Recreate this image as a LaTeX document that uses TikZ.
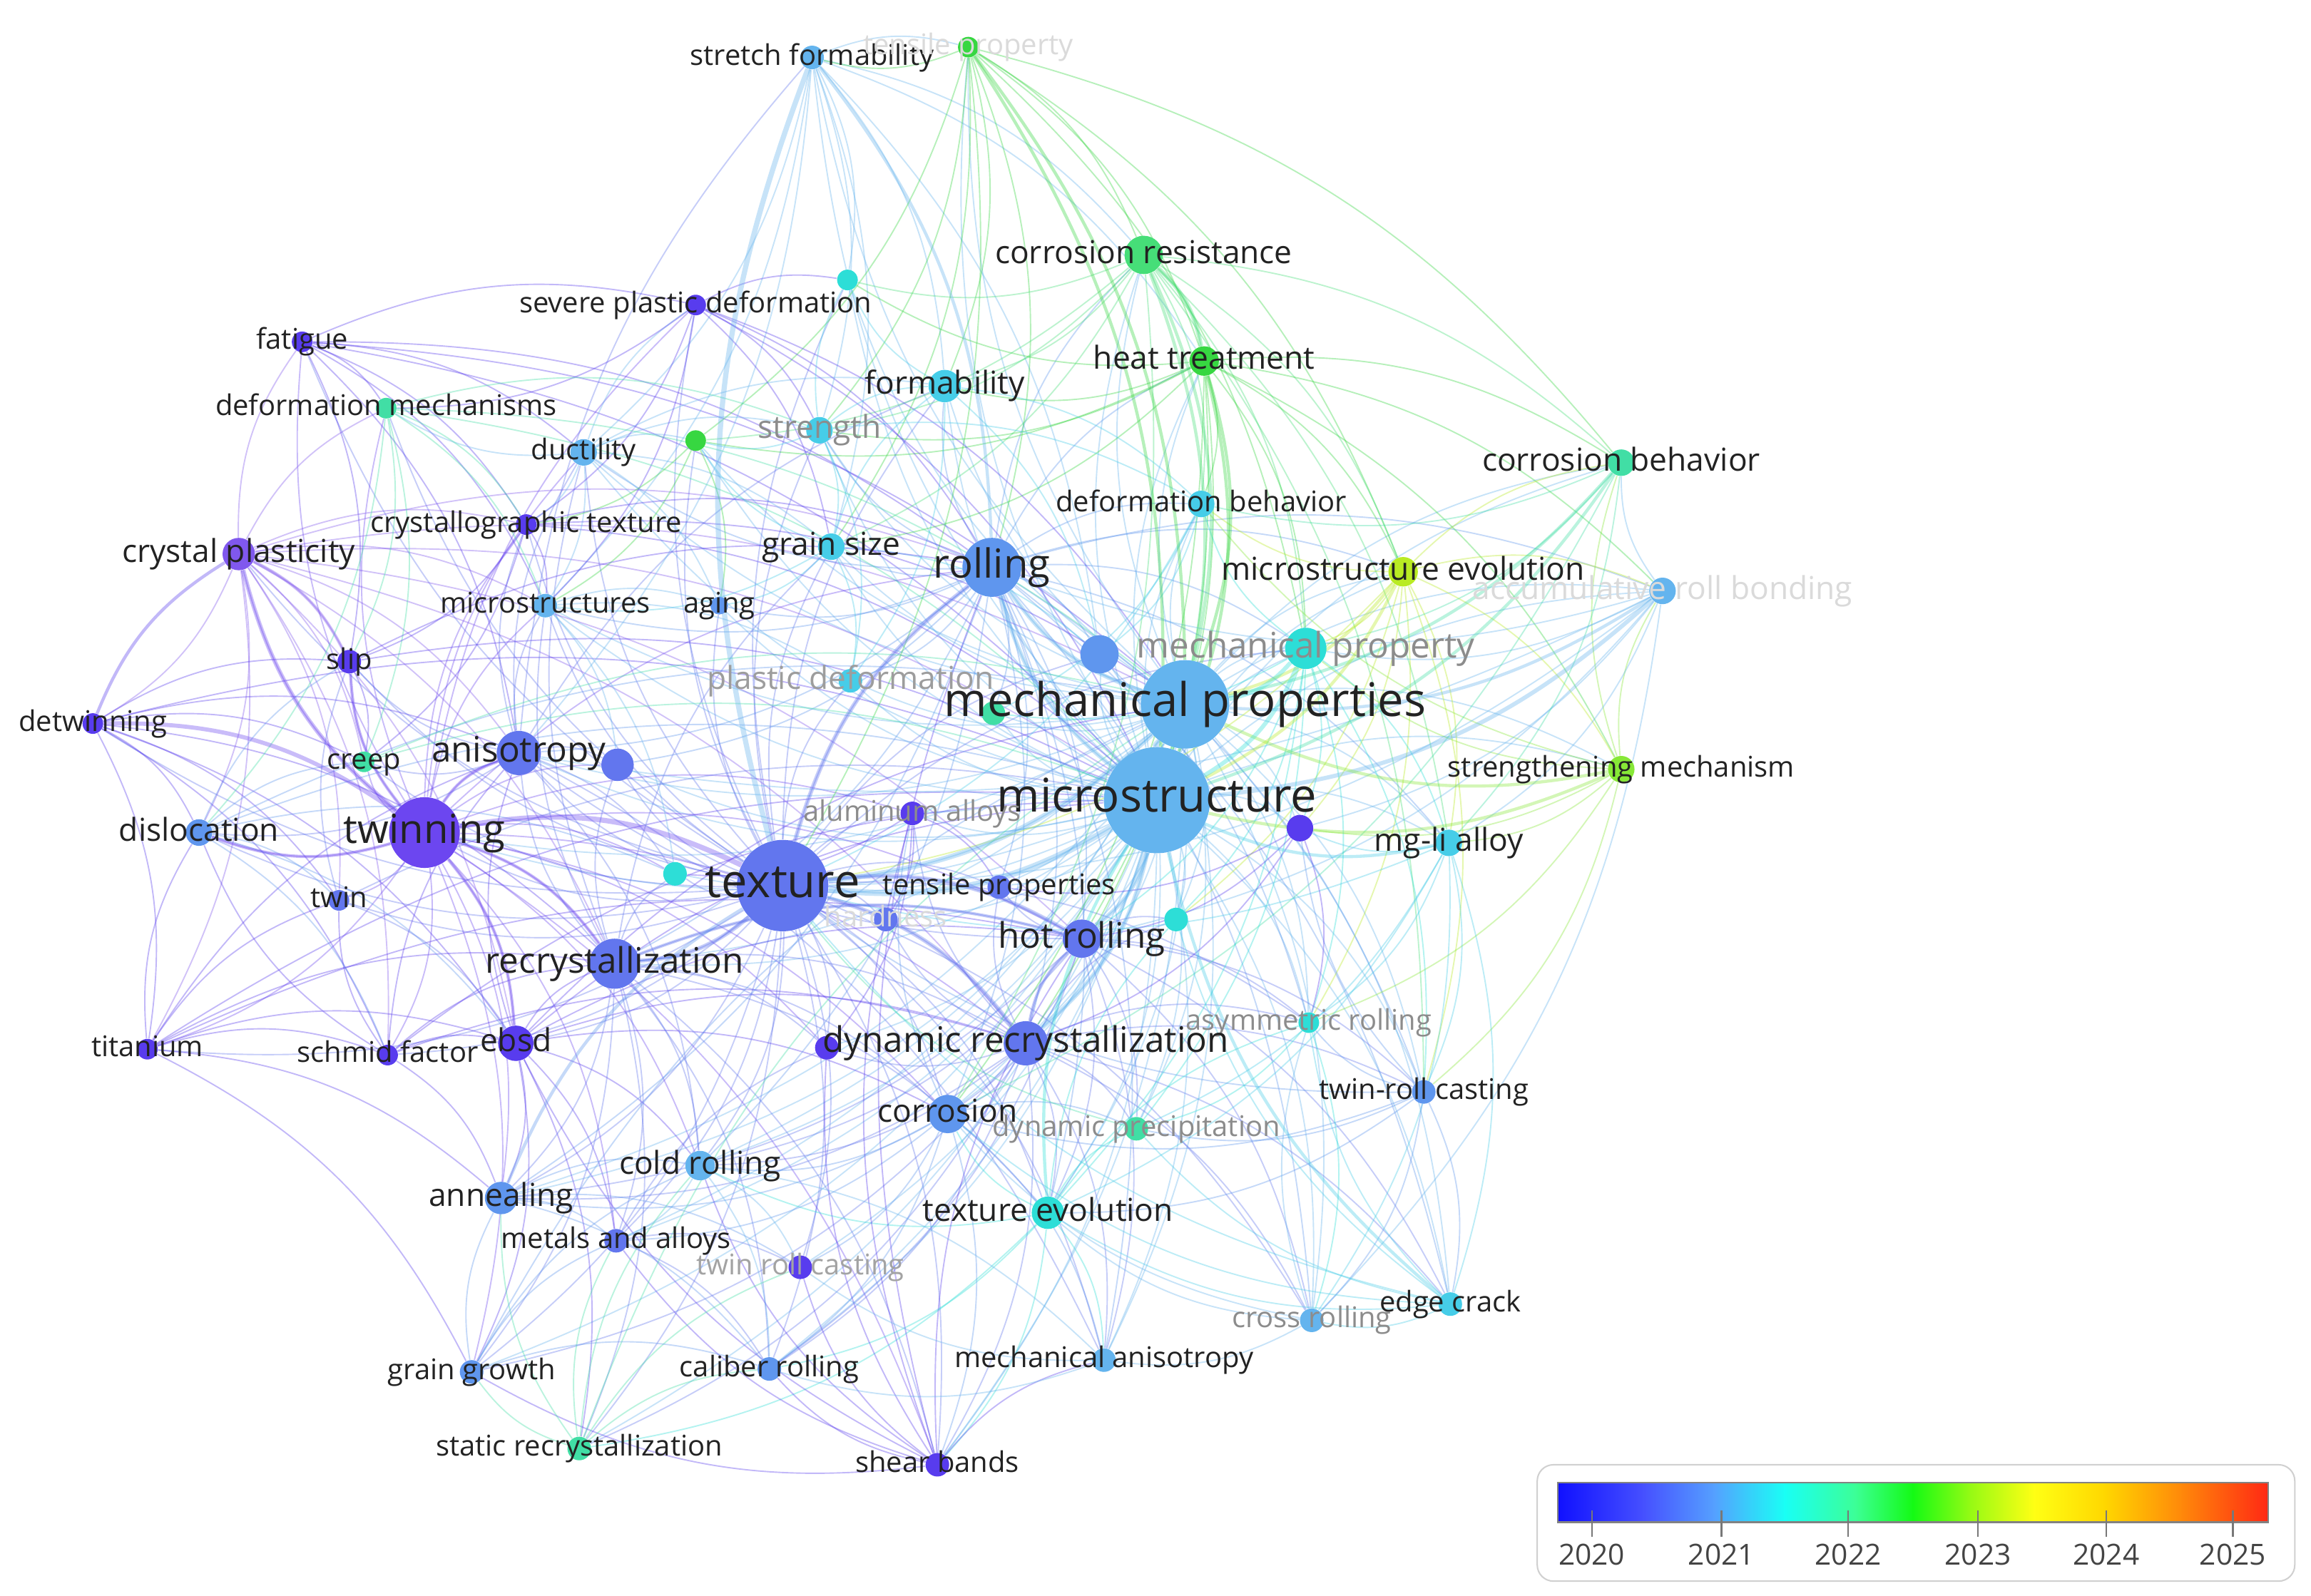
\documentclass[tikz,border=0pt]{standalone}
\usepackage{fontspec}
\setmainfont{Open Sans}
\definecolor{P0}{RGB}{88,60,238}
\definecolor{P1}{RGB}{108,70,240}
\definecolor{P2}{RGB}{128,88,238}
\definecolor{B0}{RGB}{98,118,238}
\definecolor{B1}{RGB}{95,150,238}
\definecolor{B2}{RGB}{100,180,238}
\definecolor{C0}{RGB}{70,205,232}
\definecolor{C1}{RGB}{45,222,215}
\definecolor{T0}{RGB}{65,222,165}
\definecolor{G0}{RGB}{70,222,120}
\definecolor{G1}{RGB}{55,215,65}
\definecolor{Y0}{RGB}{185,235,35}
\definecolor{YG}{RGB}{135,232,55}
\definecolor{tdark}{RGB}{34,34,34}
\definecolor{tgrey}{RGB}{140,140,140}
\definecolor{tfaint}{RGB}{218,218,218}
\definecolor{s0}{RGB}{16,16,255}
\definecolor{s1}{RGB}{70,80,255}
\definecolor{s2}{RGB}{85,160,255}
\definecolor{s3}{RGB}{25,255,245}
\definecolor{s4}{RGB}{60,255,150}
\definecolor{s5}{RGB}{20,250,20}
\definecolor{s6}{RGB}{150,250,20}
\definecolor{s7}{RGB}{255,255,20}
\definecolor{s8}{RGB}{255,215,0}
\definecolor{s9}{RGB}{255,135,10}
\definecolor{s10}{RGB}{255,40,20}
\pgfdeclarelayer{edges}
\pgfsetlayers{edges,main}
\begin{document}
\begin{tikzpicture}[x=0.025cm, y=-0.025cm,
  nd/.style 2 args={circle, inner sep=0pt, minimum size=#2*0.05cm, fill=#1, draw=none},
  lnk/.style={line width=0.65pt, draw opacity=0.36},
  lab/.style={inner sep=0pt, anchor=center, text=tdark},
  lXL/.style={lab, font=\fontsize{22.4pt}{27pt}\selectfont, text height=16.5pt, text depth=5pt},
  lL/.style={lab, font=\fontsize{19.35pt}{23pt}\selectfont, text height=14.3pt, text depth=4.25pt},
  lM/.style={lab, font=\fontsize{17pt}{20.5pt}\selectfont, text height=12.6pt, text depth=3.75pt},
  lS/.style={lab, font=\fontsize{15.25pt}{18.5pt}\selectfont, text height=11.3pt, text depth=3.35pt},
  lXS/.style={lab, font=\fontsize{13.75pt}{16.5pt}\selectfont, text height=10.2pt, text depth=3pt},
  lyear/.style={inner sep=0pt, anchor=center, text={rgb,255:red,68;green,68;blue,68}, font=\fontsize{14pt}{17pt}\selectfont}
]
\useasboundingbox (0,0) rectangle (1568,1083);
% ---------------- nodes ----------------
\node[nd={B2}{8}] (sf) at (551,39) {};
\node[nd={G1}{7}] (tp) at (657,32) {};
\node[nd={G0}{13}] (cr) at (776,173) {};
\node[nd={P0}{7}] (spd) at (472,207) {};
\node[nd={C1}{7}] (ua) at (575,190) {};
\node[nd={P0}{7}] (fa) at (205,232) {};
\node[nd={G1}{10}] (ht) at (817,245) {};
\node[nd={C0}{11}] (fo) at (641,262) {};
\node[nd={T0}{7}] (dm) at (262,277) {};
\node[nd={C0}{9}] (st) at (556,292) {};
\node[nd={B2}{9}] (du) at (396,307) {};
\node[nd={G1}{7}] (ub) at (472,299) {};
\node[nd={T0}{9}] (cb) at (1100,314) {};
\node[nd={C0}{9}] (db) at (815,342) {};
\node[nd={P0}{7}] (ct) at (357,356) {};
\node[nd={P2}{11}] (cp) at (162,376) {};
\node[nd={C0}{9}] (gs) at (564,371) {};
\node[nd={B1}{20}] (ro) at (673,385) {};
\node[nd={Y0}{10}] (me) at (952,388) {};
\node[nd={B2}{9}] (arb) at (1128,401) {};
\node[nd={B2}{8}] (ms) at (370,411) {};
\node[nd={B1}{6}] (ag) at (488,411) {};
\node[nd={P0}{8}] (sl) at (237,449) {};
\node[nd={C1}{14}] (mpy) at (886,440) {};
\node[nd={B1}{13}] (uc) at (746,444) {};
\node[nd={C0}{8}] (pd) at (577,462) {};
\node[nd={B2}{30}] (mp) at (804,478) {};
\node[nd={T0}{8}] (ud) at (674,484) {};
\node[nd={P0}{7}] (dt) at (63,491) {};
\node[nd={T0}{7}] (cre) at (247,517) {};
\node[nd={B0}{15}] (an) at (352,511) {};
\node[nd={B0}{11}] (ue) at (419,519) {};
\node[nd={B1}{9}] (di) at (135,565) {};
\node[nd={C1}{8}] (uf) at (458,593) {};
\node[nd={B0}{31}] (tx) at (531,601) {};
\node[nd={B0}{7}] (twn) at (230,611) {};
\node[nd={P1}{24}] (tw) at (288,565) {};
\node[nd={B0}{17}] (rc) at (417,654) {};
\node[nd={P0}{12}] (eb) at (350,708) {};
\node[nd={P0}{7}] (ti) at (100,712) {};
\node[nd={P0}{7}] (sc) at (263,716) {};
\node[nd={B2}{36}] (mi) at (785,543) {};
\node[nd={P0}{8}] (al) at (619,552) {};
\node[nd={P0}{9}] (ug) at (882,562) {};
\node[nd={C0}{9}] (mg) at (983,572) {};
\node[nd={YG}{9}] (sm) at (1100,522) {};
\node[nd={B0}{8}] (tpr) at (678,602) {};
\node[nd={B0}{8}] (ha) at (601,624) {};
\node[nd={B0}{13}] (hr) at (734,637) {};
\node[nd={C1}{8}] (uh) at (798,624) {};
\node[nd={C1}{7}] (asr) at (888,694) {};
\node[nd={B0}{15}] (dr) at (696,708) {};
\node[nd={P0}{8}] (ui) at (561,711) {};
\node[nd={B1}{8}] (trc) at (966,741) {};
\node[nd={B1}{13}] (co) at (643,756) {};
\node[nd={T0}{8}] (dp) at (771,766) {};
\node[nd={B2}{10}] (cor) at (475,791) {};
\node[nd={C1}{11}] (te) at (711,823) {};
\node[nd={B1}{11}] (ann) at (340,813) {};
\node[nd={B0}{8}] (ma) at (418,842) {};
\node[nd={P0}{8}] (trc2) at (543,860) {};
\node[nd={B2}{8}] (crl) at (890,896) {};
\node[nd={C0}{8}] (ec) at (984,885) {};
\node[nd={B1}{8}] (gg) at (320,931) {};
\node[nd={B1}{8}] (cal) at (522,929) {};
\node[nd={B2}{8}] (mai) at (749,923) {};
\node[nd={T0}{8}] (srx) at (393,983) {};
\node[nd={P0}{8}] (sb) at (636,994) {};
% ---------------- edges ----------------
\begin{pgfonlayer}{edges}
\fill[white] (0,0) rectangle (1568,1083);
\foreach \s/\c/\tl in {
 mi/B2/{mp,tx,ro,hr,dr,rc,an,tw,fo,st,gs,du,mpy,me,cr,ht,cb,arb,sm,mg,trc,co,te,cor,ann,asr,dp,ec,crl,mai,tpr,al,pd,db,uc,ud,ug,uh,sf,tp,ag,ms,ma,cal,gg,srx,sb,trc2,ha,ua,ub,ue,uf,ui},
 mp/B2/{tx,ro,hr,dr,rc,an,tw,fo,st,gs,du,mpy,me,cr,ht,cb,arb,sm,mg,trc,co,te,cor,ann,asr,dp,ec,crl,mai,tpr,al,pd,db,uc,sf,tp,ms,cal,sb,ua,ma,ub,ud,ug,uh},
 tx/B0/{tw,rc,ro,hr,dr,an,cp,sl,dt,di,twn,eb,sc,ti,ct,ms,du,fo,gs,st,cor,ann,ma,gg,srx,sb,cal,co,te,trc2,mai,tpr,al,ha,ue,uf,ui,spd,fa,dm,cre,ag,pd,crl,asr,mpy,uc,ua,ub},
 tw/P1/{cp,sl,di,twn,eb,sc,ti,an,rc,ct,fa,dm,cre,du,ms,ro,hr,dr,sb,ue,uf,ann,ma,gg,spd,al,ui,cor,co},
 cp/P2/{sl,dt,di,twn,an,fa,ct,rc,eb,ti,sc,cre,ms,dm,mi,mp,ro,hr,dr},
 dt/P0/{sl,di,ti,twn,eb,sc,rc,cre,an,mi},
 fa/P0/{spd,dm,sl,ct,ms,du,an,mi,mp,ro},
 ti/P0/{eb,sc,di,rc,ann,gg,an,twn,mi,hr},
 sc/P0/{eb,rc,an,twn,ann,di,mi,dr},
 eb/P0/{rc,an,ann,cor,ma,gg,dr,hr,co,srx,mi,mp},
 ro/B1/{an,rc,hr,dr,fo,gs,st,du,cr,ht,me,arb,mpy,uc,cor,ann,co,te,asr,crl,ec,trc,mg,tpr,pd,ms,ag,ue,db,mai,ud},
 rc/B0/{an,hr,dr,ann,gg,srx,cor,ma,co,te,cal,sb,ms,du,gs,ue,ui,uf},
 dr/B0/{hr,co,te,dp,asr,trc,cor,cal,sb,srx,gg,ann,tpr,al,ha,ui,mai,crl,ec,uh},
 hr/B0/{an,te,dp,asr,trc,cor,co,cal,crl,ec,mai,tpr,uh,ann},
 an/B0/{fo,sf,du,ms,ct,cre,ue,di,sl,cor,mai,uf},
 sf/B2/{fo,st,gs,ua,du,an,cr,tp,ht,uc,ms},
 tp/G1/{cr,ht,fo,st,ub,mpy,me,cb,gs,sf,ro,tx},
 cr/G0/{ht,cb,me,co,mpy,db,fo,ub,st,gs,trc,mg,ua},
 ht/G1/{me,cb,mpy,db,fo,st,gs,ub,co,arb,sm,hr,dr,ua},
 me/Y0/{mpy,sm,arb,cb,mg,db,trc,asr,ug,uh,tx},
 sm/YG/{mpy,arb,mg,trc,ug,asr,db,cb},
 arb/B2/{mpy,cb,mg,ug,hr,crl,ro,tx,an},
 cb/T0/{mpy,mg,db,co},
 mpy/C1/{db,mg,ug,asr,trc,te,dp,uh,hr,ud},
 mg/C0/{ug,asr,trc,crl,ec,te,dp,tx},
 trc/B1/{asr,crl,ec,te,ug,dp,co,tx},
 ec/C0/{crl,te,co,dp,asr,uh,tx},
 crl/B2/{te,mai,asr,co},
 te/C1/{dp,co,asr,mai,sb,cal,cor,srx,uh},
 co/B1/{dp,cor,ann,ma,sb,cal,mai,trc2,al},
 sb/P0/{trc2,cal,mai,gg,ma,cor,al,ui,ro,eb,hr},
 srx/T0/{gg,ann,cal,cor,ma,trc2,mp},
 gg/B1/{ann,ma,cal,cor,mp},
 ann/B1/{ma,cor,cal,trc2},
 cor/B2/{ma,cal,trc2,mai},
 ma/B0/{trc2,cal,ui},
 du/B2/{dm,ms,ct,fo,st,gs,spd,ub,ag},
 spd/P0/{ct,dm,ms,gs,st,ua,mi,mp,ro},
 dm/T0/{ct,ms,cre,di,sl,st,mi,mp},
 st/C0/{gs,fo,ua,ub,pd,db},
 gs/C0/{fo,pd,ag,ub,ms,uc},
 fo/C0/{ua,db,uc,pd},
 db/C0/{uc,ud,tx},
 dp/T0/{tx},
 ub/G1/{ms,ct,ag},
 ct/P0/{ms,sl,cre,mi,mp,ro},
 ms/B2/{ag,pd,ue,uf},
 di/B1/{twn,sl,cre,uf,eb,sc,mi,mp},
 twn/B0/{sl,eb,mi},
 sl/P0/{cre,mi,ro},
 cre/T0/{mi,mp},
 al/P0/{tpr,ha,ui,uf},
 ug/P0/{tpr,hr,dr,asr},
 asr/C1/{dp,crl},
 mai/B2/{cal,trc2}}
{
  \foreach \t in \tl {
    \draw[lnk, draw=\c] (\s) to[bend left=18] (\t);
  }
}
\foreach \s/\t/\c/\w in {
 tx/sf/B2/5, tw/cp/P1/4, dt/tw/P1/4, tw/tx/P1/5, tw/rc/P1/3, tw/eb/P1/3, tw/sl/P1/3,
 cp/sl/P2/3, cr/ht/G0/4, cr/mi/G0/3, cr/mp/G0/3, ht/mi/G1/3, ht/mp/G1/3,
 mi/mp/B2/6, mi/tx/B2/6, mp/tx/B2/5, mi/ro/B2/4, mp/ro/B2/4, mi/hr/B2/4, mi/dr/B2/4,
 tx/rc/B0/4, tx/dr/B0/4, tx/hr/B0/4, tx/ro/B0/4, arb/mi/B2/4, arb/mp/B2/3,
 sm/mi/YG/3, sm/mp/YG/3, cb/mi/T0/3, cb/mp/T0/3, te/mi/C1/3, me/mi/Y0/3, me/mp/Y0/3,
 tp/mp/G1/3, tp/mi/G1/3, mg/mi/C0/3, sf/ro/B2/3, ec/mi/C0/3, dt/cp/P0/3,
 mpy/mi/C1/4, mpy/mp/C1/4, tw/an/P1/3, tw/di/P1/3, rc/hr/B0/3, dr/hr/B0/3, ann/tx/B1/3}
{
  \draw[lnk, draw=\c, line width=0.5*\w pt] (\s) to[bend left=18] (\t);
}
\end{pgfonlayer}
% ---------------- labels ----------------
\node[lXS] (l-sf) at (sf) {stretch formability};
\node[lXS, text=tfaint] (l-tp) at (tp) {tensile property};
\node[lS] (l-cr) at (cr) {corrosion resistance};
\node[lXS] (l-spd) at (spd) {severe plastic deformation};
\node[lXS] (l-fa) at (fa) {fatigue};
\node[lS] (l-ht) at (ht) {heat treatment};
\node[lS] (l-fo) at (fo) {formability};
\node[lXS] (l-dm) at (dm) {deformation mechanisms};
\node[lS, text=tgrey] (l-st) at (st) {strength};
\node[lXS] (l-du) at (du) {ductility};
\node[lS] (l-cb) at (cb) {corrosion behavior};
\node[lXS] (l-db) at (db) {deformation behavior};
\node[lXS] (l-ct) at (ct) {crystallographic texture};
\node[lS] (l-cp) at (cp) {crystal plasticity};
\node[lS] (l-gs) at (gs) {grain size};
\node[lL] (l-ro) at (ro) {rolling};
\node[lS] (l-me) at (me) {microstructure evolution};
\node[lS, text=tfaint] (l-arb) at (arb) {accumulative roll bonding};
\node[lXS] (l-ms) at (ms) {microstructures};
\node[lXS] (l-ag) at (ag) {aging};
\node[lXS] (l-sl) at (sl) {slip};
\node[lM, text=tgrey] (l-mpy) at (mpy) {mechanical property};
\node[lS, text=tgrey!85] (l-pd) at (pd) {plastic deformation};
\node[lXL] (l-mp) at (mp) {mechanical properties};
\node[lXS] (l-dt) at (dt) {detwinning};
\node[lXS] (l-cre) at (cre) {creep};
\node[lM] (l-an) at (an) {anisotropy};
\node[lS] (l-di) at (di) {dislocation};
\node[lXL] (l-tx) at (tx) {texture};
\node[lXS] (l-twn) at (twn) {twin};
\node[lL] (l-tw) at (tw) {twinning};
\node[lM] (l-rc) at (rc) {recrystallization};
\node[lS] (l-eb) at (eb) {ebsd};
\node[lXS] (l-ti) at (ti) {titanium};
\node[lXS] (l-sc) at (sc) {schmid factor};
\node[lXL] (l-mi) at (mi) {microstructure};
\node[lXS, text=tgrey] (l-al) at (al) {aluminum alloys};
\node[lS] (l-mg) at (mg) {mg-li alloy};
\node[lXS] (l-sm) at (sm) {strengthening mechanism};
\node[lXS] (l-tpr) at (tpr) {tensile properties};
\node[lXS, text=tfaint] (l-ha) at (ha) {hardness};
\node[lM] (l-hr) at (hr) {hot rolling};
\node[lXS, text=tgrey] (l-asr) at (asr) {asymmetric rolling};
\node[lM] (l-dr) at (dr) {dynamic recrystallization};
\node[lXS] (l-trc) at (trc) {twin-roll casting};
\node[lS] (l-co) at (co) {corrosion};
\node[lXS, text=tgrey] (l-dp) at (dp) {dynamic precipitation};
\node[lS] (l-cor) at (cor) {cold rolling};
\node[lS] (l-te) at (te) {texture evolution};
\node[lS] (l-ann) at (ann) {annealing};
\node[lXS] (l-ma) at (ma) {metals and alloys};
\node[lXS, text=tgrey!80] (l-trc2) at (trc2) {twin roll casting};
\node[lXS, text=tgrey] (l-crl) at (crl) {cross rolling};
\node[lXS] (l-ec) at (ec) {edge crack};
\node[lXS] (l-gg) at (gg) {grain growth};
\node[lXS] (l-cal) at (cal) {caliber rolling};
\node[lXS] (l-mai) at (mai) {mechanical anisotropy};
\node[lXS] (l-srx) at (srx) {static recrystallization};
\node[lXS] (l-sb) at (sb) {shear bands};
% ---------------- legend ----------------
\draw[draw={rgb,255:red,208;green,208;blue,208}, line width=0.7pt, rounded corners=0.275cm, fill=white] (1043,994) rectangle (1557,1073);
\foreach \xa/\xb/\ca/\cb in {1057/1115/s0/s1, 1115/1163/s1/s2, 1163/1211/s2/s3, 1211/1259/s3/s4, 1259/1298/s4/s5, 1298/1337/s5/s6, 1337/1380/s6/s7, 1380/1428/s7/s8, 1428/1481/s8/s9, 1481/1539/s9/s10}
{
  \shade[left color=\ca, right color=\cb] (\xa-0.3,1006) rectangle (\xb+0.3,1033);
}
\draw[draw={rgb,255:red,130;green,130;blue,130}, line width=0.8pt] (1057,1006) rectangle (1539,1033);
\foreach \x/\yr in {1080/2020, 1168/2021, 1254/2022, 1342/2023, 1429/2024, 1515/2025}
{
  \draw[draw={rgb,255:red,120;green,120;blue,120}, line width=0.7pt] (\x,1025) -- (\x,1043);
  \node[lyear] (yr\yr) at (\x,1055) {\yr};
}
\end{tikzpicture}
\end{document}
